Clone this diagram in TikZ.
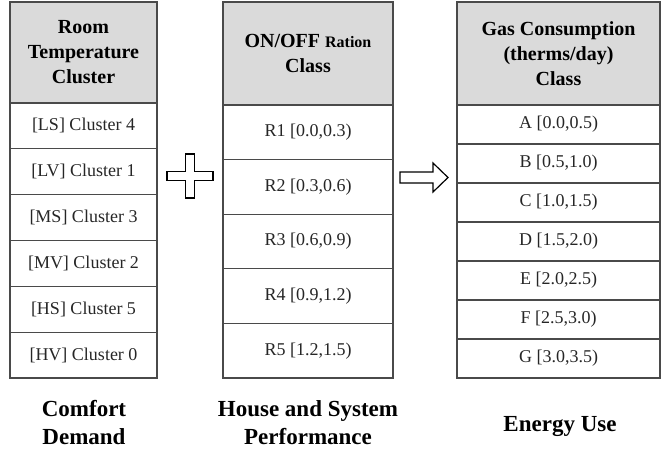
\documentclass[tikz,border=0pt]{standalone}
\usepackage{fontspec}
\setmainfont{Liberation Serif}
\definecolor{linec}{HTML}{4A4A4A}
\definecolor{headfill}{HTML}{DADADA}
\definecolor{txtc}{HTML}{262626}
\begin{document}
\begin{tikzpicture}[x=1pt,y=-1pt,
  cell/.style={draw=linec, line width=1.3pt, rectangle, inner sep=0pt, outer sep=0pt,
    anchor=north west, align=center, text=txtc, font=\fontsize{18}{22}\selectfont},
  headcell/.style={cell, fill=headfill, text=black, font=\fontsize{20}{25}\selectfont\bfseries},
  caption/.style={align=center, inner sep=0pt, font=\fontsize{23}{28}\selectfont\bfseries},
  symbol/.style={draw=black, line width=1.2pt, fill=white, line join=miter}]
\useasboundingbox (0,0) rectangle (661,452);

% Column 1: Room Temperature Cluster
\node[headcell, minimum width=147pt, minimum height=101pt] (h1) at (10,2) {Room\\Temperature\\Cluster};
\foreach \t [count=\i from 0] in {{[LS] Cluster 4},{[LV] Cluster 1},{[MS] Cluster 3},{[MV] Cluster 2},{[HS] Cluster 5},{[HV] Cluster 0}}{
  \node[cell, minimum width=147pt, minimum height=45.83pt] (c1r\i) at (10,{103+45.83*\i}) {\t};
}

% Column 2: ON/OFF Ration Class
\node[headcell, minimum width=170pt, minimum height=103pt] (h2) at (223,2) {ON/OFF {\fontsize{16}{25}\selectfont Ration}\\Class};
\foreach \t [count=\i from 0] in {{R1 [0.0,0.3)},{R2 [0.3,0.6)},{R3 [0.6,0.9)},{R4 [0.9,1.2)},{R5 [1.2,1.5)}}{
  \node[cell, minimum width=170pt, minimum height=54.6pt] (c2r\i) at (223,{105+54.6*\i}) {\t};
}

% Column 3: Gas Consumption Class
\node[headcell, minimum width=203pt, minimum height=103pt] (h3) at (457,2) {Gas Consumption\\(therms/day)\\Class};
\foreach \t [count=\i from 0] in {{A [0.0,0.5)},{B [0.5,1.0)},{C [1.0,1.5)},{D [1.5,2.0)},{E [2.0,2.5)},{F [2.5,3.0)},{G [3.0,3.5)}}{
  \node[cell, minimum width=203pt, minimum height=39pt] (c3r\i) at (457,{105+39*\i}) {\t};
}

% Plus sign
\coordinate (plus) at (190,176);
\draw[symbol] ([shift={(-4.8,-22)}]plus) -- ([shift={(4.8,-22)}]plus) -- ([shift={(4.8,-4.6)}]plus)
  -- ([shift={(23,-4.6)}]plus) -- ([shift={(23,4.6)}]plus) -- ([shift={(4.8,4.6)}]plus)
  -- ([shift={(4.8,22)}]plus) -- ([shift={(-4.8,22)}]plus) -- ([shift={(-4.8,4.6)}]plus)
  -- ([shift={(-23,4.6)}]plus) -- ([shift={(-23,-4.6)}]plus) -- ([shift={(-4.8,-4.6)}]plus) -- cycle;

% Block arrow
\coordinate (arr) at (400,177.5);
\draw[symbol] ([shift={(0,-5.5)}]arr) -- ([shift={(33,-5.5)}]arr) -- ([shift={(33,-14.5)}]arr)
  -- ([shift={(48,0)}]arr) -- ([shift={(33,14.5)}]arr) -- ([shift={(33,5.5)}]arr)
  -- ([shift={(0,5.5)}]arr) -- cycle;

% Captions
\node[caption] (cap1) at (84,423) {Comfort\\Demand};
\node[caption] (cap2) at (308,423) {House and System\\Performance};
\node[caption, anchor=base] (cap3) at (560,431) {Energy Use};
\end{tikzpicture}
\end{document}
